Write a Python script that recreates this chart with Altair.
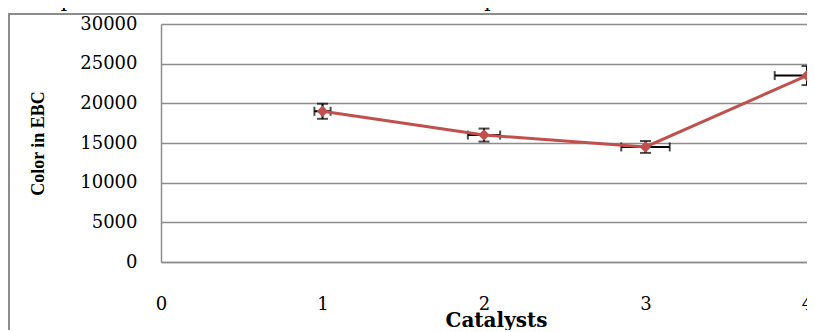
import altair as alt
import pandas as pd

# ---- data ----
catalysts = [1, 2, 3, 4]
color_ebc = [19000, 16000, 14500, 23500]
y_err = [950, 820, 750, 1200]
x_err = [0.05, 0.10, 0.15, 0.20]
x_ticks = [0, 1, 2, 3, 4]
y_ticks = [0, 5000, 10000, 15000, 20000, 25000, 30000]

df = pd.DataFrame({"cat": catalysts, "color": color_ebc, "ye": y_err, "xe": x_err})
df["ylo"] = df["color"] - df["ye"]
df["yhi"] = df["color"] + df["ye"]
df["xlo"] = df["cat"] - df["xe"]
df["xhi"] = df["cat"] + df["xe"]

RED = "#C0504D"
GRID = "#8c8c8c"
SERIF = "DejaVu Serif"

xscale = alt.Scale(domain=[0, 4], nice=False, zero=False)
yscale = alt.Scale(domain=[0, 30000], nice=False)

xaxis = alt.Axis(
    values=x_ticks, tickCount=20, format="d", grid=False, ticks=False, domain=True,
    domainColor=GRID, domainWidth=1.5, labelFont=SERIF, labelFontSize=18,
    labelColor="black", labelPadding=33, labelFlush=False, labelOverlap=False,
    title="Catalysts", titleFont=SERIF, titleFontSize=20, titleFontWeight="bold",
    titleColor="black", titleX=335, titleY=64, titleBaseline="alphabetic",
    titleAlign="center",
)
yaxis = alt.Axis(
    values=y_ticks, tickCount=20, format="d", grid=True, gridColor=GRID, gridWidth=1.5,
    ticks=False, domain=True, domainColor=GRID, domainWidth=1.5,
    labelFont=SERIF, labelFontSize=18, labelColor="black", labelPadding=24,
    labelOverlap=False,
    title="Color in EBC", titleFont="Liberation Serif", titleFontSize=18,
    titleFontWeight="bold", titleColor="black", titleX=-123, titleY=119,
    titleAngle=270, titleBaseline="middle", titleAlign="center",
)

base = alt.Chart(df)

frame = alt.Chart(alt.Data(values=[{"a": 1}])).mark_rect(
    filled=False, stroke=GRID, strokeWidth=2
).encode(x=alt.value(-152), x2=alt.value(700), y=alt.value(-10), y2=alt.value(400))

vbar = base.mark_rule(color="black", strokeWidth=2).encode(
    x=alt.X("cat:Q", scale=xscale, axis=xaxis),
    y=alt.Y("ylo:Q", scale=yscale, axis=yaxis),
    y2="yhi:Q",
)
vcap_lo = base.mark_tick(color="black", thickness=2, size=11, orient="horizontal").encode(
    x=alt.X("cat:Q", scale=xscale), y=alt.Y("ylo:Q", scale=yscale)
)
vcap_hi = base.mark_tick(color="black", thickness=2, size=11, orient="horizontal").encode(
    x=alt.X("cat:Q", scale=xscale), y=alt.Y("yhi:Q", scale=yscale)
)
hbar = base.mark_rule(color="black", strokeWidth=2).encode(
    x=alt.X("xlo:Q", scale=xscale), x2="xhi:Q", y=alt.Y("color:Q", scale=yscale)
)
hcap_lo = base.mark_tick(color="black", thickness=2, size=9, orient="vertical").encode(
    x=alt.X("xlo:Q", scale=xscale), y=alt.Y("color:Q", scale=yscale)
)
hcap_hi = base.mark_tick(color="black", thickness=2, size=9, orient="vertical").encode(
    x=alt.X("xhi:Q", scale=xscale), y=alt.Y("color:Q", scale=yscale)
)
line = base.mark_line(color=RED, strokeWidth=3).encode(
    x=alt.X("cat:Q", scale=xscale), y=alt.Y("color:Q", scale=yscale)
)
pts = base.mark_point(shape="diamond", filled=True, color=RED, opacity=1, size=130).encode(
    x=alt.X("cat:Q", scale=xscale), y=alt.Y("color:Q", scale=yscale)
)

top_left = alt.Chart(alt.Data(values=[{"t": "ation production."}])).mark_text(
    font=SERIF, fontSize=21, align="left", baseline="alphabetic", color="black"
).encode(text="t:N", x=alt.value(-161), y=alt.value(-17))
top_mid = alt.Chart(alt.Data(values=[{"t": "sample."}])).mark_text(
    font=SERIF, fontSize=21, align="center", baseline="alphabetic", color="black"
).encode(text="t:N", x=alt.value(321), y=alt.value(-17))

chart = alt.layer(
    frame, vbar, vcap_lo, vcap_hi, hbar, hcap_lo, hcap_hi, line, pts, top_left, top_mid
).properties(
    width=646, height=238,
    autosize=alt.AutoSizeParams(type="none"),
    padding={"left": 153, "top": 16, "right": 0, "bottom": 68},
).configure_view(stroke="transparent").configure(background="white")

chart.save("out.html", embed_options={"renderer": "svg", "actions": False})
